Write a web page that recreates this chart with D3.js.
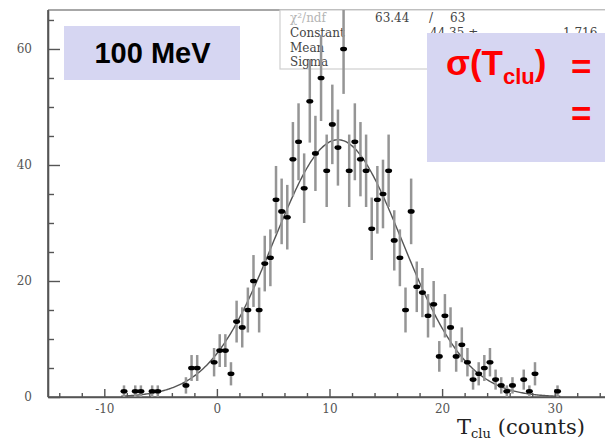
<!DOCTYPE html>
<html><head><meta charset="utf-8">
<script src="https://cdn.jsdelivr.net/npm/d3@7"></script>
<style>body{margin:0;background:#fff} svg{display:block}</style>
</head><body>
<svg id="c" width="605" height="441"></svg>
<script>
// ---- data ----
const binCenters = [-8.25,-7.25,-6.75,-5.75,-5.25,-2.75,-2.25,-1.75,-0.25,0.25,0.75,1.25,1.75,2.25,2.75,3.25,3.75,4.25,4.75,5.25,5.75,6.25,6.75,7.25,7.75,8.25,8.75,9.25,9.75,10.25,10.75,11.25,11.75,12.25,12.75,13.25,13.75,14.25,14.75,15.25,15.75,16.25,16.75,17.25,17.75,18.25,18.75,19.25,19.75,20.25,20.75,21.25,21.75,22.25,22.75,23.25,23.75,24.25,24.75,25.25,25.75,26.25,27.25,27.75,28.25,30.25];
const counts     = [1,1,1,1,1,2,5,5,6,8,8,4,13,12,15,20,15,23,24,34,32,31,41,44,36,51,42,55,39,47,43,60,39,44,41,39,29,34,35,39,27,24,15,32,19,18,14,16,7,14,12,7,9,6,3,4,5,6,3,2,1,2,3,1,4,1];
const xTicks = [-10,0,10,20,30];
const xMinorTicks = [-14,-12,-8,-6,-4,-2,2,4,6,8,12,14,16,18,22,24,26,28,32,34];
const yTicks = [0,20,40,60];
const yMinorTicks = [5,10,15,25,30,35,45,50,55,65];
const fitConstant = 44.35, fitMean = 10.75, fitSigma = 5.7;
const fitRange = [-8.5, 30.5];
const statsLabels = ["Constant","Mean","Sigma"];
const chiLabel = "χ²/ndf", chiValues = ["63.44","/","63"];
const constantValues = ["44.35 ±","1.716"];

const svg = d3.select("#c");
const x = d3.scaleLinear().domain([-15,35]).range([48,611]);
const y = d3.scaleLinear().domain([0,66.72]).range([397,10]);

svg.append("defs").append("clipPath").attr("id","clip")
  .append("rect").attr("x",48).attr("y",10).attr("width",557).attr("height",387);

// frame top
svg.append("line").attr("x1",48).attr("x2",605).attr("y1",10).attr("y2",10)
  .attr("stroke","#8a8a8a").attr("stroke-width",1.5);

// axes
const serif = "DejaVu Serif";
const plain = d => String(d);
const gx = svg.append("g").attr("transform","translate(0,397)")
  .call(d3.axisBottom(x).tickValues(xTicks).tickFormat(plain).tickSizeInner(-8).tickSizeOuter(0).tickPadding(7));
const gxm = svg.append("g").attr("transform","translate(0,397)")
  .call(d3.axisBottom(x).tickValues(xMinorTicks).tickSizeInner(-4).tickSizeOuter(0).tickFormat(""));
const gy = svg.append("g").attr("transform","translate(48,0)")
  .call(d3.axisLeft(y).tickValues(yTicks).tickFormat(plain).tickSizeInner(-12).tickSizeOuter(0).tickPadding(16));
const gym = svg.append("g").attr("transform","translate(48,0)")
  .call(d3.axisLeft(y).tickValues(yMinorTicks).tickSizeInner(-6).tickSizeOuter(0).tickFormat(""));
[gx,gxm,gy,gym].forEach(g=>{
  g.select(".domain").attr("stroke","#555").attr("stroke-width",1.6);
  g.selectAll(".tick line").attr("stroke","#555").attr("stroke-width",1.4);
  g.selectAll(".tick text").attr("font-family",serif).attr("font-size",12).attr("fill","#555");
});
gx.select(".domain").attr("d","M48,0H605");
gy.select(".domain").attr("d","M0,10V397");

// stats box
svg.append("rect").attr("x",280).attr("y",10).attr("width",360).attr("height",59)
  .attr("fill","#fff").attr("stroke","#cfcfcf").attr("stroke-width",1.2);
svg.append("text").attr("x",290).attr("y",22).attr("font-family",serif).attr("font-size",12)
  .attr("fill","#b5b5b5").text(chiLabel);
const chiX = [375,429,450];
chiValues.forEach((v,i)=>svg.append("text").attr("x",chiX[i]).attr("y",22)
  .attr("font-family",serif).attr("font-size",12).attr("fill","#444").text(v));
statsLabels.forEach((t,i)=>svg.append("text").attr("x",290).attr("y",37+i*14.5)
  .attr("font-family",serif).attr("font-size",12).attr("fill","#444").text(t));
const cX = [430,563];
constantValues.forEach((v,i)=>svg.append("text").attr("x",cX[i]).attr("y",37)
  .attr("font-family",serif).attr("font-size",12).attr("fill","#444").text(v));

// data
const plot = svg.append("g").attr("clip-path","url(#clip)");
const data = binCenters.map((c,i)=>({x:c, n:counts[i]}));
const gauss = v => fitConstant*Math.exp(-0.5*Math.pow((v-fitMean)/fitSigma,2));
const curvePts = d3.range(fitRange[0], fitRange[1]+0.001, 0.1).map(v=>[v,gauss(v)]);
plot.append("path").datum(curvePts)
  .attr("d", d3.line().x(d=>x(d[0])).y(d=>y(d[1])))
  .attr("fill","none").attr("stroke","#555").attr("stroke-width",1.4);
plot.selectAll("line.err").data(data).enter().append("line").attr("class","err")
  .attr("x1",d=>x(d.x)).attr("x2",d=>x(d.x))
  .attr("y1",d=>y(d.n+Math.sqrt(d.n))).attr("y2",d=>y(Math.max(0,d.n-Math.sqrt(d.n))))
  .attr("stroke","#959595").attr("stroke-width",2.5);
plot.selectAll("ellipse").data(data).enter().append("ellipse")
  .attr("cx",d=>x(d.x)).attr("cy",d=>y(d.n)).attr("rx",3.5).attr("ry",2.3).attr("fill","#000");

// x axis title
const xt = svg.append("text").attr("x",457).attr("y",434).attr("font-family",serif)
  .attr("font-size",21).attr("fill","#222");
xt.append("tspan").text("T");
xt.append("tspan").attr("font-size",13).attr("dy",4).text("clu");
xt.append("tspan").attr("dy",-4).attr("dx",7).text("(counts)");

// 100 MeV box
svg.append("rect").attr("x",64).attr("y",26).attr("width",176).attr("height",54).attr("fill","#d6d6f2");
svg.append("text").attr("x",152.5).attr("y",63).attr("text-anchor","middle")
  .attr("font-family","Liberation Sans").attr("font-weight","bold").attr("font-size",29)
  .attr("fill","#000").text("100 MeV");

// sigma box
svg.append("rect").attr("x",427).attr("y",33).attr("width",180).attr("height",129).attr("fill","#d6d6f2");
const st = svg.append("text").attr("x",446).attr("y",75).attr("font-family","Liberation Sans")
  .attr("font-weight","bold").attr("font-size",35).attr("fill","#ff0000");
st.append("tspan").text("σ(T");
st.append("tspan").attr("font-size",22).attr("dy",9).text("clu");
st.append("tspan").attr("dy",-9).text(")");
[79,126].forEach(yy=>svg.append("text").attr("x",571).attr("y",yy).attr("font-family","Liberation Sans")
  .attr("font-weight","bold").attr("font-size",35).attr("fill","#ff0000").text("="));
</script>
</body></html>
